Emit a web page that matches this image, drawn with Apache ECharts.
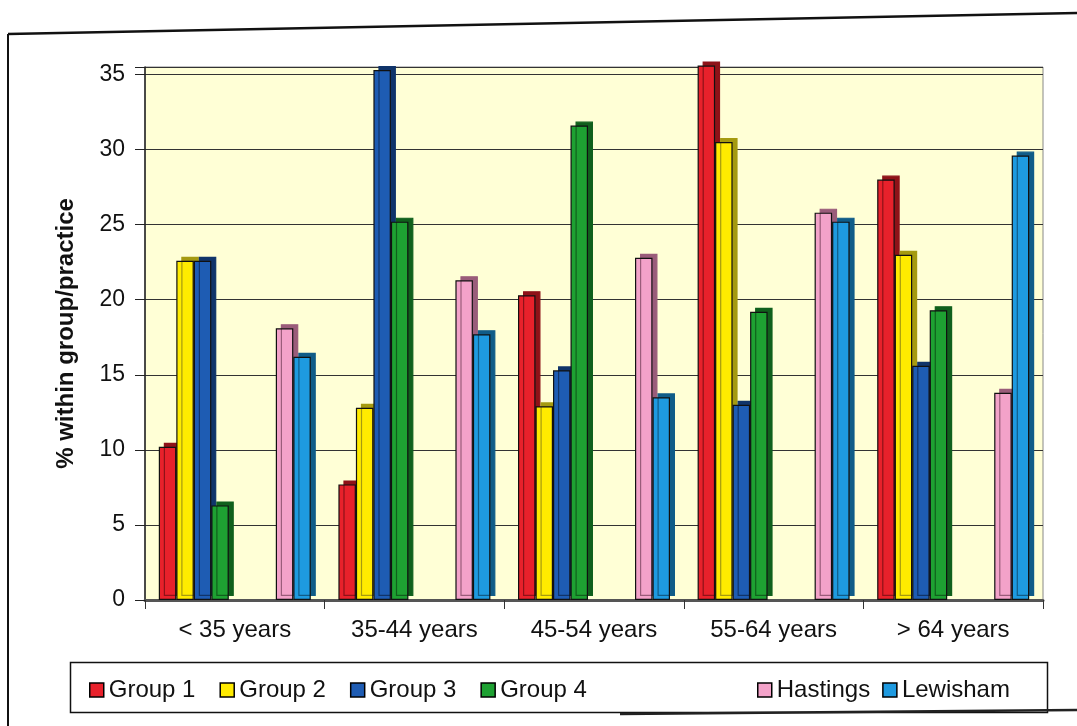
<!DOCTYPE html>
<html>
<head>
<meta charset="utf-8">
<script src="https://cdn.jsdelivr.net/npm/echarts@6/dist/echarts.min.js"></script>
<style>
html,body{margin:0;padding:0;background:#fff;}
#chart{width:1077px;height:726px;}
</style>
</head>
<body>
<div id="chart"></div>
<script>
const categories = ['< 35 years', '35-44 years', '45-54 years', '55-64 years', '> 64 years'];
const group1 = [10.2, 7.7, 20.3, 35.6, 28.0];
const group2 = [22.6, 12.8, 12.9, 30.5, 23.0];
const group3 = [22.6, 35.3, 15.3, 13.0, 15.6];
const group4 = [6.3, 25.2, 31.6, 19.2, 19.3];
const hastings = [18.1, 21.3, 22.8, 25.8, 13.8];
const lewisham = [16.2, 17.7, 13.5, 25.2, 29.6];
const yTicks = [0, 5, 10, 15, 20, 25, 30, 35];

const FONT = 'Liberation Sans';
const chart = echarts.init(document.getElementById('chart'));

function barSeries(name, data, color, side) {
  return {
    name: name, type: 'bar', data: data, barWidth: 17.5, barGap: '0%', clip: false,
    itemStyle: {
      color: color, borderColor: '#111', borderWidth: 1.2,
      shadowColor: side, shadowOffsetX: 5, shadowOffsetY: -4, shadowBlur: 0
    },
    emphasis: { disabled: true }
  };
}

chart.setOption({
  animation: false,
  backgroundColor: '#ffffff',
  textStyle: { fontFamily: FONT },
  grid: {
    left: 145, right: 34, top: 67, bottom: 126,
    show: true, backgroundColor: '#FFFFD6', borderColor: '#888', borderWidth: 1
  },
  xAxis: {
    type: 'category', data: categories, boundaryGap: true,
    axisLine: { lineStyle: { color: '#555', width: 3 } },
    axisTick: { show: true, alignWithLabel: false, length: 9, lineStyle: { color: '#333' } },
    axisLabel: { color: '#111', fontSize: 24, fontFamily: FONT, margin: 18 },
    splitLine: { show: false }
  },
  yAxis: {
    type: 'value', min: 0, max: 35.5, interval: 5,
    name: '% within group/practice', nameLocation: 'middle', nameGap: 67,
    nameTextStyle: { fontSize: 24, fontWeight: 'bold', color: '#111', fontFamily: FONT },
    axisLine: { show: true, lineStyle: { color: '#222', width: 1.5 } },
    axisTick: { show: true, length: 10, lineStyle: { color: '#222' } },
    axisLabel: {
      color: '#111', fontSize: 23, fontFamily: FONT, margin: 20,
      formatter: function (v) { return yTicks.indexOf(v) >= 0 ? String(v) : ''; }
    },
    splitLine: { show: true, lineStyle: { color: '#333', width: 1 } }
  },
  legend: [
    {
      data: ['Group 1', 'Group 2', 'Group 3', 'Group 4'],
      left: 84, top: 673, icon: 'rect', itemWidth: 14, itemHeight: 14, itemGap: 24,
      itemStyle: { borderColor: '#000', borderWidth: 1.5, shadowBlur: 0, shadowOffsetX: 0, shadowOffsetY: 0, shadowColor: 'transparent' },
      textStyle: { fontSize: 24, color: '#111', fontFamily: FONT }, selectedMode: false
    },
    {
      data: ['Hastings', 'Lewisham'],
      left: 752, top: 673, icon: 'rect', itemWidth: 14, itemHeight: 14, itemGap: 12,
      itemStyle: { borderColor: '#000', borderWidth: 1.5, shadowBlur: 0, shadowOffsetX: 0, shadowOffsetY: 0, shadowColor: 'transparent' },
      textStyle: { fontSize: 24, color: '#111', fontFamily: FONT }, selectedMode: false
    }
  ],
  graphic: [
    { type: 'rect', left: 68, top: 660, shape: { width: 977, height: 50 }, style: { fill: 'none', stroke: '#111', lineWidth: 1.5 }, silent: true },
    { type: 'line', shape: { x1: 8, y1: 34, x2: 1077, y2: 13 }, style: { stroke: '#111', lineWidth: 2.5 }, silent: true },
    { type: 'line', shape: { x1: 8, y1: 34, x2: 8, y2: 726 }, style: { stroke: '#111', lineWidth: 2 }, silent: true },
    { type: 'line', shape: { x1: 620, y1: 714, x2: 1077, y2: 710 }, style: { stroke: '#222', lineWidth: 2.5 }, silent: true }
  ],
  series: [
    barSeries('Group 1', group1, '#E8212B', '#8E1218'),
    barSeries('Group 2', group2, '#FFEB00', '#A59A10'),
    barSeries('Group 3', group3, '#1E5CB3', '#10346A'),
    barSeries('Group 4', group4, '#1EA132', '#10601C'),
    { name: 'spacer', type: 'bar', data: [null, null, null, null, null], barWidth: 47, barGap: '0%', silent: true },
    barSeries('Hastings', hastings, '#F3A2C9', '#9A5C7A'),
    barSeries('Lewisham', lewisham, '#1E9AE0', '#105C88')
  ]
});
</script>
</body>
</html>
